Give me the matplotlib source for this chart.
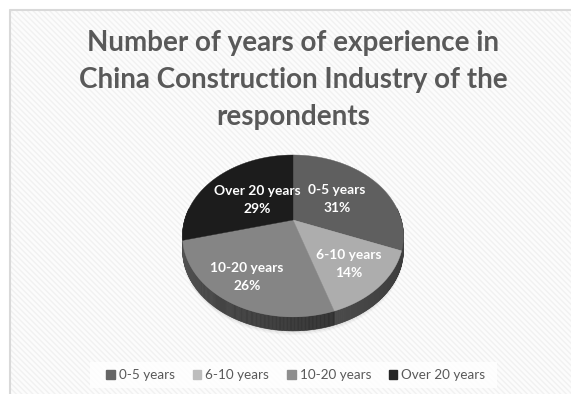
#!/usr/bin/env python3

# pie of respondents' experience, drawn as a tilted 3D disc
import numpy as np
import matplotlib
matplotlib.use('Agg')
import matplotlib.pyplot as plt
from matplotlib.patches import Patch, Rectangle

labels = ['0-5 years', '6-10 years', '10-20 years', 'Over 20 years']
values = [31, 14, 26, 29]
colors = ['#5f5f5f', '#adadad', '#858585', '#1c1c1c']
swatches = ['#666666', '#bdbdbd', '#8e8e8e', '#262626']
side_start = [0.25, 0.23, 0.19, 0.30]
side_end = [0.25, 0.29, 0.33, 0.30]
title = 'Number of years of experience in\nChina Construction Industry of the\nrespondents'

# perspective of the disc, in pixels
cx, cy = 293, 220
a, b, k = 108.3, 77.8, 0.197
depth = 14

plt.rcParams['font.family'] = ['Lato', 'DejaVu Sans']
plt.rcParams['hatch.linewidth'] = 1.0
fig = plt.figure(figsize=(5.71, 3.94), dpi=100)
ax = fig.add_axes([0, 0, 1, 1])
ax.set_xlim(0, 571)
ax.set_ylim(394, 0)
ax.axis('off')


def project(theta):
    # theta runs clockwise from twelve o'clock
    u, v = np.sin(theta), np.cos(theta)
    w = 1 + k * v
    return cx + a * u / w, cy - b * v / w


# chart area with its fine diagonal texture and thin border
ax.add_patch(Rectangle((9, 9), 570, 400, facecolor='#fcfcfc', edgecolor='#f1f1f1',
                       hatch='\\\\\\\\\\\\', linewidth=0, zorder=0))
ax.plot([9.5, 9.5, 571], [394, 9.5, 9.5], color='#d9d9d9', lw=1.5, zorder=1)

# soft shadow under the disc
t = np.linspace(0, 2 * np.pi, 300)
sx, sy = project(t)
for grow, alpha in zip([4, 2.5, 1], [0.03, 0.04, 0.06]):
    ax.fill(sx, sy + depth + grow, color='black', alpha=alpha, lw=0, zorder=2)

fractions = np.cumsum([0] + values) / sum(values)

# side wall, only the near half of the rim shows
for i in range(len(values)):
    th = np.linspace(fractions[i], fractions[i + 1], 160) * 2 * np.pi
    for t0, t1 in zip(th[:-1], th[1:]):
        if np.cos((t0 + t1) / 2) > 0.15:
            continue
        x0, y0 = project(t0)
        x1, y1 = project(t1)
        frac = (t0 - th[0]) / (th[-1] - th[0])
        shade = str(side_start[i] + (side_end[i] - side_start[i]) * frac)
        ax.fill([x0, x1, x1, x0], [y0, y1, y1 + depth, y0 + depth], color=shade,
                lw=0.4, edgecolor=shade, zorder=3)

# top face slices
for i, color in enumerate(colors):
    th = np.linspace(fractions[i], fractions[i + 1], 160) * 2 * np.pi
    x, y = project(th)
    ax.fill(np.r_[cx, x], np.r_[cy, y], color=color, lw=0.3, edgecolor=color, zorder=4)

# slice captions
label_pos = [(337, 199), (349, 264), (247, 277), (257, 200)]
for name, val, (lx, ly) in zip(labels, values, label_pos):
    ax.text(lx, ly, f'{name}\n{val}%', color='white', fontsize=9.9, fontweight='bold',
            ha='center', va='center', linespacing=1.6, zorder=5)

ax.text(293, 80, title, color='#595959', fontsize=20, fontweight='bold',
        ha='center', va='center', linespacing=1.54, zorder=5)

# legend strip
ax.add_patch(Rectangle((90, 362), 407, 26, facecolor='white', edgecolor='none', alpha=0.8, zorder=4))
handles = [Patch(color=c, label=n) for c, n in zip(swatches, labels)]
leg = ax.legend(handles=handles, ncol=4, loc='center', bbox_to_anchor=(296 / 571, 1 - 375 / 394),
                fontsize=9.7, frameon=False, handlelength=0.65, handleheight=0.65,
                handletextpad=0.3, columnspacing=1.3, labelcolor='#595959')
leg.set_zorder(5)

fig.savefig('out.png', dpi=100)
